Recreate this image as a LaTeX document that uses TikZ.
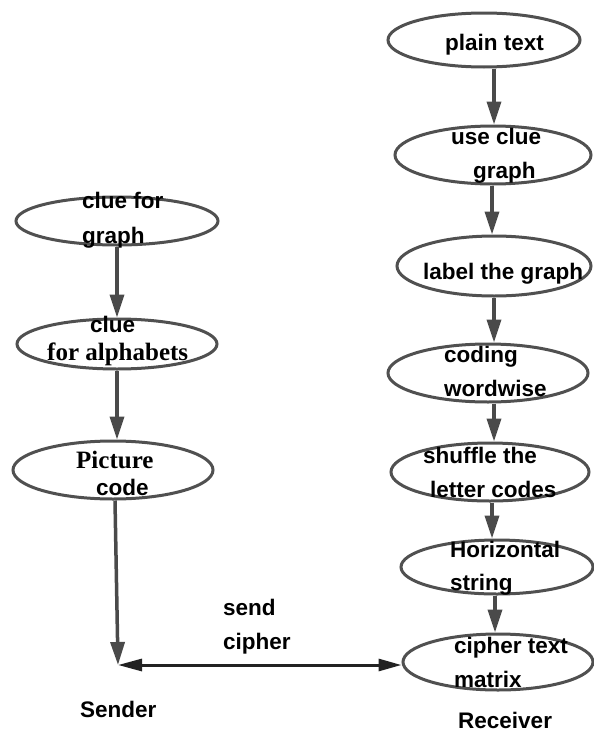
\documentclass[tikz,border=0pt]{standalone}
\usepackage{fontspec}
\setmainfont{Liberation Sans}
\newfontfamily\serifbold{Liberation Serif}
\usetikzlibrary{arrows.meta,shapes.geometric}
\definecolor{edgegray}{HTML}{505050}
\definecolor{arrowgray}{HTML}{4A4A4A}
\definecolor{darkline}{HTML}{222222}
\begin{document}
\begin{tikzpicture}[x=1pt,y=-1pt,
  stage/.style={draw=edgegray, line width=3pt, ellipse, inner sep=0pt},
  txt/.style={font=\fontsize{22.5}{27}\selectfont\bfseries, inner sep=0pt, anchor=base west},
  stxt/.style={font=\fontsize{25}{30}\selectfont\serifbold\bfseries, inner sep=0pt, anchor=base west},
  flow/.style={draw=arrowgray, line width=3.5pt, -{Triangle[length=23pt,width=14pt]}},
  sendline/.style={draw=darkline, line width=3pt, {Triangle[length=24pt,width=12pt]}-{Triangle[length=23pt,width=12pt]}}
]
\useasboundingbox (0,0) rectangle (594,736);
\fill[white] (0,0) rectangle (594,736);

% left column ellipses
\node[stage, minimum width=202pt, minimum height=48pt] (cg) at (117,221) {};
\node[stage, minimum width=200pt, minimum height=50pt] (ca) at (117,344) {};
\node[stage, minimum width=200pt, minimum height=58pt] (pc) at (113,470) {};

% right column ellipses
\node[stage, minimum width=192pt, minimum height=54pt] (pt) at (484,40) {};
\node[stage, minimum width=196pt, minimum height=58pt] (uc) at (493,155) {};
\node[stage, minimum width=194pt, minimum height=60pt] (lg) at (494,266) {};
\node[stage, minimum width=200pt, minimum height=58pt] (cw) at (488,373) {};
\node[stage, minimum width=198pt, minimum height=58pt] (sl) at (490,472) {};
\node[stage, minimum width=192pt, minimum height=54pt] (hs) at (497,567) {};
\node[stage, minimum width=190pt, minimum height=56pt] (ct) at (498,662) {};

% left texts
\node[txt] (t1a) at (82,208) {clue for};
\node[txt] (t1b) at (82,243) {graph};
\node[txt] (t2a) at (90,332) {clue};
\node[stxt] (t2b) at (47,360) {for alphabets};
\node[stxt] (t3a) at (76,468) {Picture};
\node[txt] (t3b) at (96,495) {code};

% right texts
\node[txt] (r1) at (445,50) {plain text};
\node[txt] (r2a) at (451,144) {use clue};
\node[txt] (r2b) at (473,178) {graph};
\node[txt] (r3) at (423,279) {label the graph};
\node[txt] (r4a) at (444,362) {coding};
\node[txt] (r4b) at (444,396) {wordwise};
\node[txt] (r5a) at (423,463) {shuffle the};
\node[txt] (r5b) at (430,497) {letter codes};
\node[txt] (r6a) at (450,557) {Horizontal};
\node[txt] (r6b) at (450,590) {string};
\node[txt] (r7a) at (454,653) {cipher text};
\node[txt] (r7b) at (454,687) {matrix};

% other labels
\node[txt] (send1) at (223,615) {send};
\node[txt] (send2) at (223,649) {cipher};
\node[txt] (sender) at (80,717) {Sender};
\node[txt] (receiver) at (458,728) {Receiver};

% left arrows
\draw[flow] (cg.south -| 117,0) -- (ca.north -| 117,0);
\draw[flow] (ca.south -| 117,0) -- (pc.north -| 117,0);
\coordinate (S) at (118,665);
\draw[flow] (pc.south -| 115,0) -- (S);

% right arrows
\draw[flow] (pt.south -| 494,0) -- (uc.north -| 494,0);
\draw[flow] (uc.south -| 492,0) -- (lg.north -| 492,0);
\draw[flow] (lg.south -| 494,0) -- (cw.north -| 494,0);
\draw[flow] (cw.south -| 494,0) -- (sl.north -| 494,0);
\draw[flow] (sl.south -| 492,0) -- (hs.north -| 492,0);
\draw[flow] (hs.south -| 495,0) -- (ct.north -| 495,0);

% send cipher double arrow
\draw[sendline] (S) -- (ct.west |- S);
\end{tikzpicture}
\end{document}
